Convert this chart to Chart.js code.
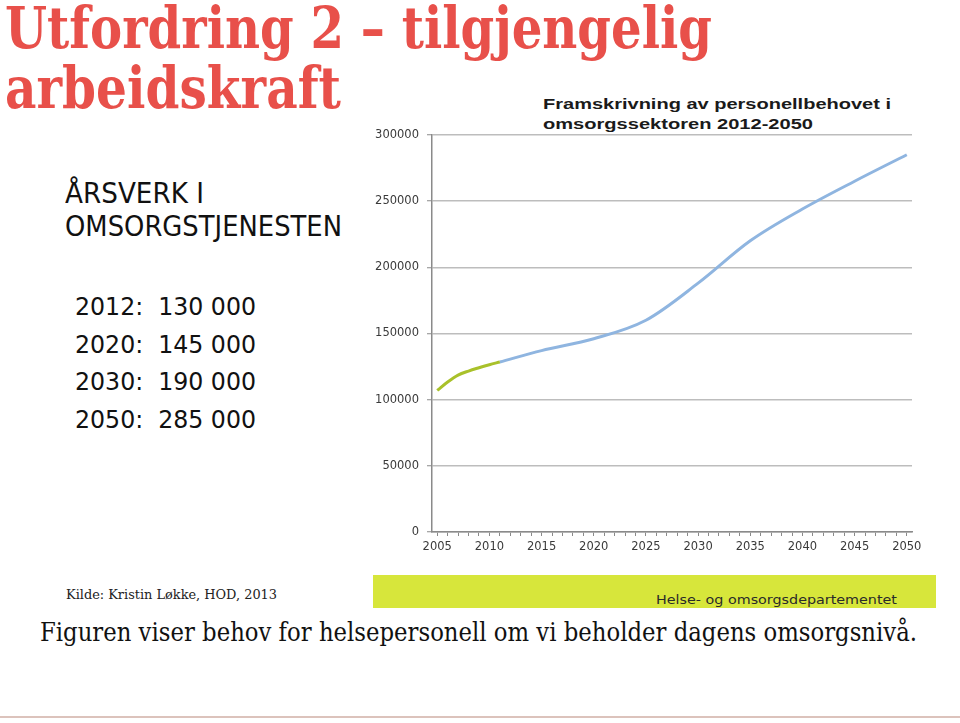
<!DOCTYPE html>
<html><head><meta charset="utf-8">
<script src="https://cdn.jsdelivr.net/npm/chart.js@4"></script>
<style>
html,body{margin:0;padding:0;background:#fff;width:960px;height:723px;overflow:hidden;position:relative;}
.t{position:absolute;white-space:nowrap;transform-origin:0 50%;}
#t1,#t2{left:5px;font-family:"DejaVu Serif";font-weight:bold;font-size:57px;line-height:60px;color:#e8504a;}
#t1{top:-2px;} #t2{top:58px;}
.ct{left:543px;font-family:"Liberation Sans";font-weight:bold;font-size:15px;line-height:20px;color:#1a1a1a;}
.lh{left:65px;font-family:"DejaVu Sans";font-size:29px;line-height:34px;color:#111;}
.num{left:75px;font-family:"DejaVu Sans";font-size:24px;line-height:30px;color:#111;white-space:pre;}
#kilde{left:66px;top:586px;font-family:"DejaVu Serif";font-size:13px;line-height:18px;color:#222;}
#band{position:absolute;left:373px;top:575px;width:563px;height:33px;background:#d7e63b;}
#hod{left:656px;top:592px;font-family:"DejaVu Sans";font-size:12px;line-height:16px;color:#2a2a2a;}
#cap{left:40px;top:616px;font-family:"DejaVu Serif";font-size:26px;line-height:32px;color:#111;}
#rule{position:absolute;left:0;top:716px;width:960px;height:2px;background:#dcc3bc;}
#wrap{position:absolute;left:340px;top:120px;width:600px;height:450px;}
</style></head>
<body>
<div class="t" id="t1" data-w="707">Utfordring 2 – tilgjengelig</div>
<div class="t" id="t2" data-w="336">arbeidskraft</div>
<div class="t ct" style="top:94px" data-w="348">Framskrivning av personellbehovet i</div>
<div class="t ct" style="top:114px" data-w="270">omsorgssektoren 2012-2050</div>
<div class="t lh" style="top:176px" data-w="139">ÅRSVERK I</div>
<div class="t lh" style="top:209px" data-w="277">OMSORGSTJENESTEN</div>
<div class="t num" style="top:292px" data-w="181">2012:  130 000</div>
<div class="t num" style="top:330px" data-w="181">2020:  145 000</div>
<div class="t num" style="top:367px" data-w="181">2030:  190 000</div>
<div class="t num" style="top:405px" data-w="181">2050:  285 000</div>
<div class="t" id="kilde" data-w="211">Kilde: Kristin Løkke, HOD, 2013</div>
<div id="band"></div>
<div class="t" id="hod" data-w="241">Helse- og omsorgsdepartementet</div>
<div class="t" id="cap" data-w="877">Figuren viser behov for helsepersonell om vi beholder dagens omsorgsnivå.</div>
<div id="rule"></div>
<div id="wrap"><canvas id="c" width="600" height="450"></canvas></div>
<script>
// Data
const historyYears = [2005, 2006, 2007, 2008, 2009, 2010, 2011];
const historyValues = [107000, 113300, 118500, 121600, 124100, 126400, 128400];
const projectionYears = [2011, 2015, 2020, 2025, 2030, 2035, 2040, 2045, 2050];
const projectionValues = [128400, 137000, 146000, 160000, 188000, 220000, 244000, 265000, 285000];
const xTickYears = [];
for (let y = 2005; y <= 2050; y++) xTickYears.push(y);
const yTickValues = [0, 50000, 100000, 150000, 200000, 250000, 300000];

// fit text widths
document.querySelectorAll('[data-w]').forEach(el => {
  const w = el.getBoundingClientRect().width;
  const target = parseFloat(el.dataset.w);
  el.style.transform = 'scaleX(' + (target / w) + ')';
});

const toPts = (xs, ys) => xs.map((x, i) => ({x: x, y: ys[i]}));
const axisGray = '#8a8a8a';
const tickFont = {family: 'DejaVu Sans', size: 11.5};

new Chart(document.getElementById('c'), {
  type: 'line',
  data: {
    datasets: [
      {data: toPts(historyYears, historyValues), borderColor: '#a9c12a', borderWidth: 3,
       cubicInterpolationMode: 'monotone', pointRadius: 0, fill: false},
      {data: toPts(projectionYears, projectionValues), borderColor: '#8fb5e0', borderWidth: 3,
       cubicInterpolationMode: 'monotone', pointRadius: 0, fill: false}
    ]
  },
  options: {
    responsive: false, animation: false, devicePixelRatio: 1,
    layout: {padding: {top: 14, right: 28, left: 0, bottom: 0}},
    plugins: {legend: {display: false}, tooltip: {enabled: false}},
    scales: {
      x: {
        type: 'linear', min: 2004.5, max: 2050.5,
        afterBuildTicks: s => { s.ticks = xTickYears.map(v => ({value: v})); },
        afterFit: s => { s.height = 38; },
        grid: {drawOnChartArea: false, drawTicks: true, tickLength: 4, color: axisGray, lineWidth: 1},
        border: {color: axisGray, width: 1.5},
        ticks: {autoSkip: false, maxRotation: 0, padding: 4, color: '#3a3a3a', font: tickFont,
                callback: v => (v % 5 === 0 ? String(v) : '')}
      },
      y: {
        min: 0, max: 300000,
        afterBuildTicks: s => { s.ticks = yTickValues.map(v => ({value: v})); },
        afterFit: s => { s.width = 92; },
        grid: {color: '#bdbdbd', lineWidth: 1.5, tickLength: 5, tickColor: axisGray, tickWidth: 1},
        border: {color: axisGray, width: 1.5},
        ticks: {padding: 8, color: '#3a3a3a', font: tickFont, callback: v => String(v)}
      }
    }
  }
});
</script>
</body></html>
